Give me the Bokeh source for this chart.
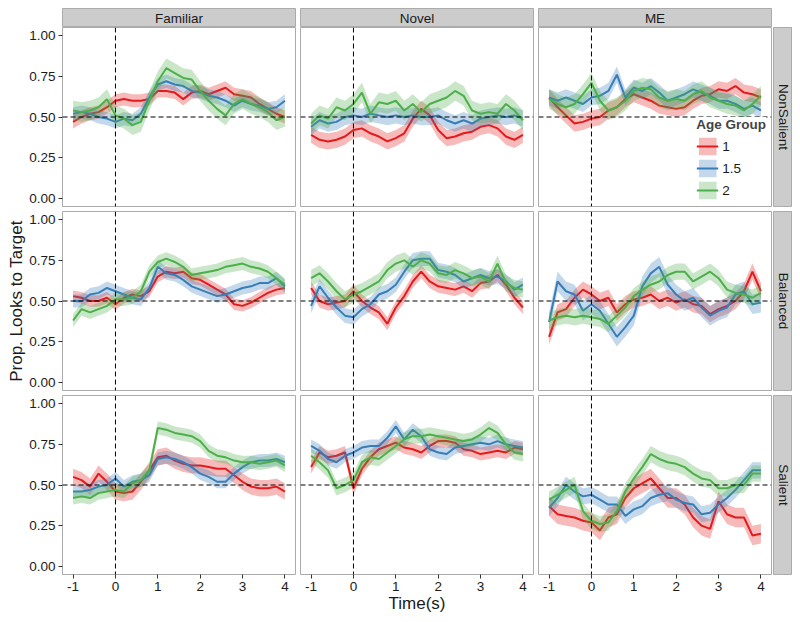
import math
from bokeh.plotting import figure
from bokeh.models import (GridBox, FixedTicker, Span, Legend, LegendItem,
                          ColumnDataSource, NumeralTickFormatter)
from bokeh.core.properties import value
from bokeh.embed import file_html
from bokeh.resources import INLINE

# ---------------- data ----------------
TIME = [-1.0, -0.8, -0.6, -0.4, -0.2, 0.0, 0.2, 0.4, 0.6, 0.8, 1.0, 1.2, 1.4,
        1.6, 1.8, 2.0, 2.2, 2.4, 2.6, 2.8, 3.0, 3.2, 3.4, 3.6, 3.8, 4.0]

COLUMNS = ["Familiar", "Novel", "ME"]
ROWS = ["NonSalient", "Balanced", "Salient"]
GROUPS = ["1", "1.5", "2"]
COLORS = ["#E41A1C", "#377EB8", "#4DAF4A"]

# NonSalient row
FAM_NS_1 = [.47, .50, .52, .53, .56, .60, .61, .60, .60, .61, .66, .66, .65, .61, .65, .66, .64, .66, .68, .64, .63, .62, .58, .55, .52, .50]
FAM_NS_15 = [.52, .53, .52, .50, .49, .47, .49, .48, .52, .62, .70, .72, .70, .69, .66, .65, .63, .62, .60, .57, .60, .58, .57, .55, .56, .60]
FAM_NS_2 = [.54, .53, .54, .56, .61, .51, .49, .45, .47, .60, .72, .80, .77, .74, .73, .66, .60, .55, .51, .58, .61, .58, .56, .53, .48, .50]

NOV_NS_1 = [.39, .36, .35, .36, .38, .42, .43, .40, .38, .35, .37, .40, .49, .55, .51, .42, .37, .38, .40, .41, .44, .45, .43, .38, .36, .39]
NOV_NS_15 = [.44, .48, .46, .47, .50, .51, .50, .52, .51, .50, .51, .50, .51, .50, .50, .51, .48, .46, .48, .46, .49, .50, .51, .50, .51, .49]
NOV_NS_2 = [.46, .51, .49, .56, .54, .58, .65, .52, .59, .58, .60, .54, .58, .53, .58, .60, .62, .66, .63, .54, .52, .53, .52, .58, .54, .48]

ME_NS_1 = [.62, .56, .51, .46, .47, .49, .50, .54, .56, .61, .64, .62, .60, .57, .56, .55, .56, .60, .63, .64, .67, .66, .69, .65, .64, .62]
ME_NS_15 = [.62, .60, .62, .60, .58, .62, .63, .66, .76, .62, .68, .66, .69, .65, .60, .62, .64, .67, .65, .63, .60, .60, .58, .55, .57, .54]
ME_NS_2 = [.61, .58, .56, .58, .64, .71, .60, .54, .56, .60, .66, .68, .67, .62, .60, .61, .60, .64, .66, .62, .60, .58, .57, .54, .58, .63]

# Balanced row
FAM_BA_1 = [.53, .52, .50, .50, .52, .48, .52, .54, .53, .56, .65, .68, .67, .68, .64, .63, .60, .57, .54, .48, .47, .49, .52, .55, .57, .58]
FAM_BA_15 = [.50, .50, .54, .55, .58, .56, .54, .52, .51, .58, .71, .67, .66, .63, .59, .57, .55, .53, .54, .56, .58, .59, .61, .61, .64, .59]
FAM_BA_2 = [.38, .45, .43, .45, .47, .51, .51, .52, .56, .68, .74, .76, .74, .71, .66, .67, .68, .69, .71, .72, .73, .71, .70, .68, .64, .60]

NOV_BA_1 = [.58, .50, .48, .49, .50, .56, .50, .46, .43, .36, .46, .53, .62, .68, .62, .59, .58, .57, .59, .56, .61, .62, .66, .60, .52, .46]
NOV_BA_15 = [.47, .59, .52, .46, .41, .40, .45, .48, .54, .56, .60, .68, .75, .76, .76, .69, .68, .66, .62, .64, .66, .64, .65, .62, .57, .60]
NOV_BA_2 = [.64, .67, .62, .56, .51, .54, .56, .59, .62, .69, .73, .75, .71, .75, .73, .67, .66, .69, .67, .64, .65, .62, .73, .61, .58, .57]

ME_BA_1 = [.28, .43, .45, .52, .57, .54, .50, .52, .43, .48, .51, .52, .54, .50, .52, .49, .51, .48, .47, .42, .45, .47, .50, .56, .68, .56]
ME_BA_15 = [.37, .62, .56, .54, .44, .48, .44, .36, .28, .34, .41, .59, .67, .71, .60, .54, .50, .52, .46, .41, .44, .46, .54, .56, .48, .49]
ME_BA_2 = [.38, .40, .41, .40, .41, .40, .39, .36, .41, .46, .53, .57, .60, .62, .66, .68, .68, .62, .65, .68, .64, .57, .55, .54, .52, .55]

# Salient row
FAM_SA_1 = [.55, .53, .49, .57, .52, .46, .45, .46, .52, .59, .67, .68, .65, .63, .62, .62, .61, .60, .60, .56, .52, .49, .48, .48, .49, .46]
FAM_SA_15 = [.46, .46, .47, .49, .50, .54, .49, .52, .53, .56, .66, .67, .66, .64, .61, .57, .55, .52, .52, .57, .61, .64, .65, .65, .66, .64]
FAM_SA_2 = [.42, .43, .42, .45, .46, .47, .46, .51, .53, .59, .85, .84, .82, .81, .80, .77, .71, .68, .67, .65, .64, .64, .63, .64, .65, .62]

NOV_SA_1 = [.61, .70, .67, .68, .70, .48, .60, .67, .72, .74, .76, .73, .72, .70, .74, .77, .77, .76, .72, .71, .69, .70, .71, .70, .73, .72]
NOV_SA_15 = [.74, .71, .66, .64, .68, .70, .73, .74, .74, .79, .86, .78, .84, .80, .72, .70, .69, .73, .74, .75, .76, .75, .77, .75, .74, .73]
NOV_SA_2 = [.68, .64, .59, .48, .50, .53, .64, .67, .66, .70, .74, .78, .80, .80, .81, .80, .79, .78, .77, .78, .81, .85, .82, .75, .70, .69]

ME_SA_1 = [.37, .32, .31, .30, .28, .27, .22, .30, .32, .42, .48, .51, .54, .48, .42, .42, .38, .30, .25, .23, .40, .32, .30, .30, .19, .20]
ME_SA_15 = [.36, .42, .50, .46, .43, .44, .41, .38, .38, .31, .35, .37, .42, .44, .45, .41, .39, .38, .32, .33, .38, .42, .47, .53, .59, .59]
ME_SA_2 = [.41, .44, .47, .50, .34, .28, .26, .27, .34, .46, .54, .61, .69, .66, .64, .63, .61, .57, .54, .53, .48, .48, .50, .50, .57, .57]

# ribbon half-widths (standard error) per panel, groups 1 / 1.5 / 2
SE_FAM_NS = [0.04, 0.04, 0.06]
SE_NOV_NS = [0.05, 0.05, 0.06]
SE_ME_NS = [0.05, 0.05, 0.06]
SE_FAM_BA = [0.035, 0.04, 0.04]
SE_NOV_BA = [0.04, 0.045, 0.05]
SE_ME_BA = [0.05, 0.06, 0.05]
SE_FAM_SA = [0.05, 0.04, 0.04]
SE_NOV_SA = [0.04, 0.04, 0.045]
SE_ME_SA = [0.06, 0.05, 0.05]

X_TICKS = [-1, 0, 1, 2, 3, 4]
X_LABELS = ["-1", "0", "1", "2", "3", "4"]
Y_TICKS = [0.0, 0.25, 0.5, 0.75, 1.0]

PANELS = {
    ("NonSalient", "Familiar"): ([FAM_NS_1, FAM_NS_15, FAM_NS_2], SE_FAM_NS),
    ("NonSalient", "Novel"): ([NOV_NS_1, NOV_NS_15, NOV_NS_2], SE_NOV_NS),
    ("NonSalient", "ME"): ([ME_NS_1, ME_NS_15, ME_NS_2], SE_ME_NS),
    ("Balanced", "Familiar"): ([FAM_BA_1, FAM_BA_15, FAM_BA_2], SE_FAM_BA),
    ("Balanced", "Novel"): ([NOV_BA_1, NOV_BA_15, NOV_BA_2], SE_NOV_BA),
    ("Balanced", "ME"): ([ME_BA_1, ME_BA_15, ME_BA_2], SE_ME_BA),
    ("Salient", "Familiar"): ([FAM_SA_1, FAM_SA_15, FAM_SA_2], SE_FAM_SA),
    ("Salient", "Novel"): ([NOV_SA_1, NOV_SA_15, NOV_SA_2], SE_NOV_SA),
    ("Salient", "ME"): ([ME_SA_1, ME_SA_15, ME_SA_2], SE_ME_SA),
}

# ---------------- layout constants ----------------
FONT = "Liberation Sans"
FRAME_W = 233
FRAME_H = 179
STRIP = 19
TOP_PAD = 8
LEFT_B = [62, 0, 0]
RIGHT_B = [5, 5, 1]
BOTTOM_B = [5, 5, 42]
BORDER_GREY = "#ababab"
STRIP_FILL = "#cccccc"
TXT = "#1a1a1a"
XR = (-1.25, 4.25)
YR = (-0.05, 1.05)

children = []

def base_fig(w, h, xr, yr, ml, mr, mt, mb, xaxis, yaxis):
    f = figure(width=w, height=h, x_range=xr, y_range=yr,
               output_backend="svg", toolbar_location=None,
               x_axis_location="below" if xaxis else None,
               y_axis_location="left" if yaxis else None,
               min_border_left=ml, min_border_right=mr,
               min_border_top=mt, min_border_bottom=mb)
    f.xgrid.visible = False
    f.ygrid.visible = False
    f.border_fill_color = "white"
    f.background_fill_color = "white"
    return f

# top strips
for c, name in enumerate(COLUMNS):
    w = LEFT_B[c] + FRAME_W + RIGHT_B[c]
    s = base_fig(w, STRIP + TOP_PAD, (0, 1), (0, 1), LEFT_B[c], RIGHT_B[c], TOP_PAD, 0, False, False)
    s.background_fill_color = STRIP_FILL
    s.outline_line_color = BORDER_GREY
    s.text(x=[0.5], y=[0.5], text=[name], text_align="center", text_baseline="middle",
           text_font=value(FONT), text_font_size="13.5px", text_color=TXT)
    children.append((s, 0, c))

# panels
for r, rname in enumerate(ROWS):
    for c, cname in enumerate(COLUMNS):
        w = LEFT_B[c] + FRAME_W + RIGHT_B[c]
        h = FRAME_H + BOTTOM_B[r]
        p = base_fig(w, h, XR, YR, LEFT_B[c], RIGHT_B[c], 0, BOTTOM_B[r],
                     r == 2, c == 0)
        p.outline_line_color = BORDER_GREY
        p.outline_line_width = 1
        series, se = PANELS[(rname, cname)]
        items = []
        for g, (vals, col) in enumerate(zip(series, COLORS)):
            lo = [v - se[g] for v in vals]
            hi = [v + se[g] for v in vals]
            src = ColumnDataSource(dict(t=TIME, y=vals, lo=lo, hi=hi))
            a = p.varea(x="t", y1="lo", y2="hi", source=src, fill_color=col, fill_alpha=0.3)
            ln = p.line(x="t", y="y", source=src, line_color=col, line_width=2)
            items.append(LegendItem(label=GROUPS[g], renderers=[a, ln]))
        p.add_layout(Span(location=0, dimension="height", line_color="black",
                          line_dash="5 3", line_width=1))
        p.add_layout(Span(location=0.5, dimension="width", line_color="black",
                          line_dash="5 3", line_width=1))
        for ax in p.xaxis:
            ax.ticker = FixedTicker(ticks=X_TICKS)
            ax.major_label_overrides = {t: lab for t, lab in zip(X_TICKS, X_LABELS)}
            ax.axis_line_color = None
            ax.major_tick_line_color = "#333333"
            ax.major_tick_out = 4
            ax.major_tick_in = 0
            ax.minor_tick_line_color = None
            ax.major_label_text_font = FONT
            ax.major_label_text_font_size = "13.5px"
            ax.major_label_text_color = TXT
            ax.major_label_standoff = 3
            if c == 1:
                ax.axis_label = "Time(s)"
                ax.axis_label_text_font = FONT
                ax.axis_label_text_font_size = "17px"
                ax.axis_label_text_font_style = "normal"
                ax.axis_label_text_color = TXT
                ax.axis_label_standoff = 0
        for ax in p.yaxis:
            ax.ticker = FixedTicker(ticks=Y_TICKS)
            ax.formatter = NumeralTickFormatter(format="0.00")
            ax.axis_line_color = None
            ax.major_tick_line_color = "#333333"
            ax.major_tick_out = 4
            ax.major_tick_in = 0
            ax.minor_tick_line_color = None
            ax.major_label_text_font = FONT
            ax.major_label_text_font_size = "13.5px"
            ax.major_label_text_color = TXT
            ax.major_label_standoff = 3
            if r == 1:
                ax.axis_label = "Prop. Looks to Target"
                ax.axis_label_text_font = FONT
                ax.axis_label_text_font_size = "17px"
                ax.axis_label_text_font_style = "normal"
                ax.axis_label_text_color = TXT
                ax.axis_label_standoff = 0
        if r == 0 and c == 2:
            leg = Legend(items=items, location="bottom_right",
                         title="Age Group", title_text_font=FONT,
                         title_text_font_style="bold", title_text_font_size="13.5px",
                         label_text_font=FONT, label_text_font_size="13.5px",
                         label_text_color=TXT,
                         glyph_width=22, glyph_height=22, spacing=0,
                         label_standoff=4, padding=5, margin=5,
                         title_standoff=3,
                         background_fill_color="white", background_fill_alpha=1.0,
                         border_line_color=None)
            p.add_layout(leg)
        children.append((p, r + 1, c))

    # right strip
    h = FRAME_H + BOTTOM_B[r]
    s = base_fig(STRIP + 1, h, (0, 1), YR, 1, 0, 0, BOTTOM_B[r], False, False)
    s.background_fill_color = STRIP_FILL
    s.outline_line_color = BORDER_GREY
    s.text(x=[0.5], y=[0.5], text=[rname], angle=-math.pi / 2,
           text_align="center", text_baseline="middle",
           text_font=value(FONT), text_font_size="13.5px", text_color=TXT)
    children.append((s, r + 1, 3))

grid = GridBox(children=children, spacing=0)

open("out.html", "w").write(file_html(grid, INLINE))
